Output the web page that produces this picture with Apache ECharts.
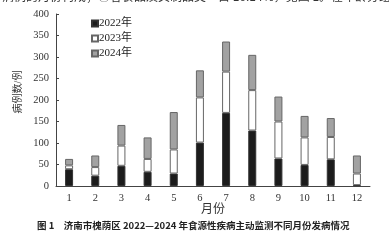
<!DOCTYPE html>
<html><head><meta charset="utf-8">
<script src="https://cdn.jsdelivr.net/npm/echarts@6/dist/echarts.min.js"></script>
<style>html,body{margin:0;padding:0;background:#fff}#c{width:389px;height:240px}</style>
</head><body><div id="c"></div>
<script>
const months = ['1','2','3','4','5','6','7','8','9','10','11','12'];
const seriesNames = ['2022年','2023年','2024年'];
const v2022 = [39, 24, 47, 33, 29, 101, 170, 129, 64, 49, 62, 2];
const v2023 = [9, 20, 47, 30, 56, 105, 96, 94, 86, 64, 52, 27];
const v2024 = [15, 27, 48, 50, 87, 63, 70, 82, 58, 50, 44, 42];
const yTicks = [0, 50, 100, 150, 200, 250, 300, 350, 400];
const yName = '病例数/例';
const xName = '月份';
const caption = '图 1　济南市槐荫区 2022—2024 年食源性疾病主动监测不同月份发病情况';
const topText = '病例的月份构成；③谷食品及其制品类　占 16.14%，见图 1。在年龄分组构成，';

const serif = '"Liberation Serif", "Noto Sans CJK SC", serif';
const chart = echarts.init(document.getElementById('c'), null, {renderer:'canvas'});
const styles = [
  {color:'#1c1c1c', borderColor:'#333', borderWidth:1},
  {color:'#ffffff', borderColor:'#666', borderWidth:1},
  {color:'#a2a2a2', borderColor:'#666', borderWidth:1}
];
const data = [v2022, v2023, v2024];
chart.setOption({
  animation:false,
  backgroundColor:'#fff',
  grid:{left:56, right:19, top:14, bottom:54},
  legend:{
    orient:'vertical', left:86, top:13, itemWidth:6, itemHeight:6, itemGap:4,
    icon:'rect',
    textStyle:{fontFamily:serif, fontSize:11, color:'#222', padding:[0,0,0,-4]},
    data:seriesNames
  },
  xAxis:{
    type:'category', data:months,
    axisLine:{lineStyle:{color:'#444', width:1}},
    axisTick:{show:false},
    axisLabel:{fontFamily:serif, fontSize:10.5, color:'#333', margin:7},
    name:xName, nameLocation:'middle', nameGap:18, nameMoveOverlap:false,
    nameTextStyle:{fontFamily:serif, fontSize:12, color:'#333'}
  },
  yAxis:{
    type:'value', min:0, max:400, interval:50,
    axisLine:{show:true, lineStyle:{color:'#444', width:1}},
    axisTick:{show:true, inside:true, length:3, lineStyle:{color:'#444'}},
    splitLine:{show:false},
    axisLabel:{fontFamily:serif, fontSize:10.5, color:'#333', margin:7,
      formatter:v=> yTicks.includes(v) ? String(v) : ''}
  },
  series: seriesNames.map((n,i)=>({
    name:n, type:'bar', stack:'all', barWidth:8,
    itemStyle:styles[i], data:data[i]
  })),
  graphic:[
    {type:'text', x:18, y:92, rotation:Math.PI/2, style:{text:yName, fontSize:10,
      fontFamily:serif, fill:'#333', align:'center', verticalAlign:'middle'}},
    {type:'text', left:37, top:221, style:{text:caption, fontSize:9.5, fontWeight:'bold',
      fontFamily:'"Noto Sans CJK SC", sans-serif', fill:'#222'}},
    {type:'text', left:2, top:-10, style:{text:topText, fontSize:12,
      fontFamily:'"Noto Sans CJK SC", serif', fill:'#333'}}
  ]
});
</script></body></html>
